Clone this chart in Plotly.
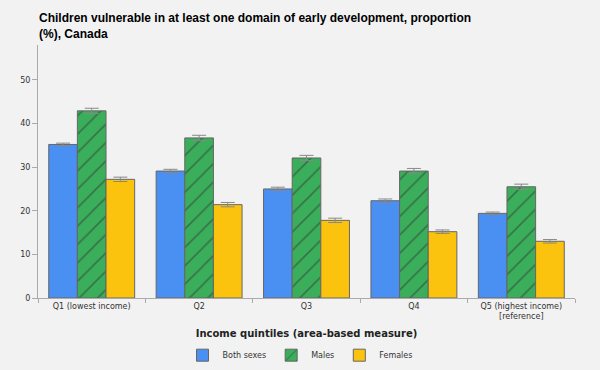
import plotly.graph_objects as go

categories = ["Q1 (lowest income)", "Q2", "Q3", "Q4", "Q5 (highest income)<br>[reference]"]
both = [35.2, 29.1, 25.0, 22.3, 19.4]
males = [42.9, 36.7, 32.1, 29.1, 25.5]
females = [27.2, 21.4, 17.8, 15.2, 13.0]
both_err = [0.3, 0.4, 0.4, 0.4, 0.3]
males_err = [0.6, 0.6, 0.6, 0.6, 0.6]
females_err = [0.5, 0.5, 0.5, 0.4, 0.4]
title_text = "Children vulnerable in at least one domain of early development, proportion<br>(%), Canada"

font = "DejaVu Sans, Verdana, sans-serif"
line = dict(color="#666666", width=1)
err = lambda v: dict(type="data", array=v, visible=True, color="#888888", thickness=1, width=7)

fig = go.Figure()
fig.add_bar(x=categories, y=both, name="Both sexes", marker=dict(color="#4a8ff2", line=line),
            error_y=err(both_err))
fig.add_bar(x=categories, y=males, name="Males",
            marker=dict(color="#3aae5b", line=line,
                        pattern=dict(shape="/", fgcolor="#333333", bgcolor="#3aae5b", size=13, solidity=0.12)),
            error_y=err(males_err))
fig.add_bar(x=categories, y=females, name="Females", marker=dict(color="#fcc30e", line=line),
            error_y=err(females_err))

fig.add_annotation(text="<b>" + title_text + "</b>", xref="paper", yref="paper", x=-0.002, xanchor="left",
                   y=1.0 + 19 / 253.0, yanchor="middle", showarrow=False, align="left",
                   font=dict(family="Liberation Sans, Arial, sans-serif", size=12, color="#000000"))

fig.update_layout(
    width=600, height=370,
    paper_bgcolor="#f2f2f2", plot_bgcolor="#f2f2f2",
    margin=dict(l=38, r=25, t=45, b=72),
    barmode="group", bargap=0.2, bargroupgap=0,
    font=dict(family=font, size=8, color="#333333"),
    showlegend=True,
    legend=dict(orientation="h", x=0.5, xanchor="center", xref="container", yref="container",
                y=0.04, yanchor="middle",
                font=dict(size=8, color="#333333"), itemwidth=30, traceorder="normal"),
)
fig.update_xaxes(showline=True, linecolor="#aaaaaa", ticks="outside", tickson="boundaries",
                 ticklen=4, tickcolor="#aaaaaa", showgrid=False, automargin=False,
                 title=dict(text="<b>Income quintiles (area-based measure)</b>", standoff=9,
                            font=dict(size=10, color="#222222")))
fig.update_yaxes(range=[0, 58], dtick=10, showline=True, linecolor="#aaaaaa", ticks="outside",
                 ticklen=5, tickcolor="#aaaaaa", showgrid=False, zeroline=False, automargin=False)

fig.write_html("out.html", config={"displayModeBar": False},
               post_script="document.body.style.margin='0';")
